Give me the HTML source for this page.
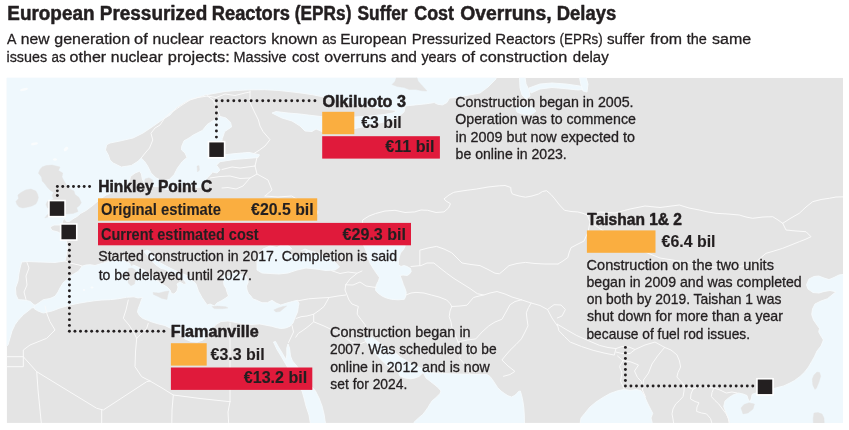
<!DOCTYPE html>
<html lang="en"><head><meta charset="utf-8"><title>European Pressurized Reactors (EPRs) Suffer Cost Overruns, Delays</title>
<style>
html,body{margin:0;padding:0;background:#fff}
svg{display:block}
text{font-family:"Liberation Sans",sans-serif;fill:#231f20;stroke:#231f20;stroke-width:0.3px;stroke-linejoin:round}
.b{font-weight:bold;stroke-width:0.5px}
.v{font-weight:bold;stroke-width:0.12px}
</style></head><body>
<svg width="849" height="430" viewBox="0 0 849 430">
<rect width="849" height="430" fill="#fff"/>
<defs><clipPath id="mc"><rect x="6.7" y="77.8" width="836.3" height="345.1"/></clipPath></defs>
<g clip-path="url(#mc)">
<rect x="6.7" y="77.8" width="836.3" height="345.1" fill="#e4e4e4"/>

<g fill="#eff8fd" stroke="#f6fafd" stroke-width="0.9" stroke-linejoin="round">
<path d="M0,70 L496,70 L496,79 L488,87 L480,93 L462.4,96.3 L453,97.8 L449.5,98 L447,102.5 L442.4,104.9 L437.7,104.3 L434.2,102.5 L427,103.7 L415.3,104.9 L405.3,106 L404,112 L398,117 L388,121 L375,124 L362,127 L350,129.5 L342,131.5 L335,132.8 L328,132.8 L322,131.5 L316,129 L312,131.5 L305,131 L300,126 L292,121 L282,118 L272,113 L276,111.5 L288,113 L300,114 L312,115.5 L325,117 L340,117.5 L355,117 L370,116 L384,114.5 L393,113 L396.5,111 L394.8,110.3 L384,109 L372.2,107.5 L361,105.5 L349.6,103.3 L341,101 L332.7,99 L323,96.8 L312.9,94.8 L303,93.3 L293,92 L279,90.5 L264.8,89.7 L250,89.8 L236.5,90.5 L225,91.5 L214,93.4 L205,95 L197,97.6 L191,99 L185,102 L176,108 L170,115 L162,120 L152,127 L143,133 L133,138 L120,141 L110,143 L106.6,144.8 L105.5,150 L108.2,154.7 L110,160 L113.2,163 L121.4,167 L131.3,165.5 L138,161.3 L141.2,158 L144.5,161.3 L147.8,166.3 L151,172.9 L156,177.8 L162.7,181 L169.3,179.5 L174.2,174.5 L177.5,168 L182.5,161.3 L187,157.5 L185,153 L181.6,150 L181.6,146.5 L184,140.8 L189,138 L193.3,135 L202.6,130.3 L207.2,124.5 L214.2,119.9 L220,116.4 L226,118 L230.5,122.2 L231.6,126.9 L224.7,131.5 L222.3,138.5 L221,146 L222,152 L224.7,154.8 L235,153.6 L249,152.4 L259.5,154.8 L258,157.5 L249,158.3 L235,159.4 L220,161.7 L216.5,165.2 L220,169.9 L217,173 L212.5,172 L210.7,174.5 L207.2,178 L205,184 L203,187 L196,187.5 L188,186 L178,189 L166,189.5 L158,186.5 L150,186.5 L146,184.5 L143.5,182 L142,177.8 L141.5,174 L139.6,171.2 L135,173 L130.5,176.5 L129.7,180 L128.9,184.4 L129.5,188 L124,190.5 L114,192 L106,195 L98,201 L92,206 L86,210.5 L80.5,213.5 L77,216.5 L73,218.8 L69.5,221.5 L66.5,221.5 L64.5,218.5 L62.5,221 L62,225 L58,225 L54,225 L50,227 L52,230.5 L58,232 L63,235 L66,240 L67.5,247 L66.5,255 L65,261 L55,262.5 L40,262 L27,261.5 L21.7,262 L20.5,266 L19,273 L18,281 L15.5,288 L16,295 L18.3,299.7 L24,300 L30,301.3 L33,304 L35,305.3 L35.5,307 L31.7,308 L28,311 L23.3,314.7 L18,320.5 L15,324.7 L12,331 L10,338 L8,345 L0,351.3Z"/>
<path d="M35,305.3 L38,303.5 L43.3,299.7 L50,298.5 L55,296.3 L58,292 L60,288 L63,283 L66.7,279.7 L72,275 L78.3,271.3 L81,268 L81.7,266.3 L86,265 L90,264.7 L95,265.5 L100,264 L105,262.5 L110,261 L115,259.5 L120,259 L125,261 L131,264 L138,267 L145,270.5 L150,275 L156,280 L162,284 L167,287 L170,290 L171.5,293.5 L174,294 L177,291 L178,287 L177,284 L180,282 L184,284.5 L186.5,283.5 L184,280 L179,277 L173,274.5 L168,272 L166,269.5 L161,268.5 L156,265 L151,260.5 L147,255 L144,251.5 L147,250 L151,252 L154,257 L159,262 L166,266 L174,270 L182,273.5 L188.5,276 L193,281 L195.8,283.5 L198.4,291 L202,297.5 L205,302 L207.3,305 L210,304 L214.5,306 L217,303 L221,301 L225,298.5 L228.5,296 L227,292 L226,288.6 L224,285 L223.5,281 L223,277.5 L224.5,274.8 L228,276.8 L231,274.5 L236.7,273 L241,274.5 L245.7,275.8 L247,278.5 L248.2,282 L246.5,286 L247,290 L248.5,293.5 L250.8,296 L253,299 L256,300 L262,302.7 L267.4,302.7 L272,300.3 L276,303 L280.8,305 L287,303 L292.5,301.5 L297.3,300.3 L299,303.5 L298.4,306.2 L297.5,312 L294.9,318 L293,323 L290.2,326.2 L285.5,328 L280.8,328.6 L276,327.5 L271.3,326.2 L265,325 L259.6,323.9 L252,324.5 L244,324 L236,322.5 L228,321 L221,321.5 L216,324.5 L212,329 L207.7,335.6 L203,340 L197,342 L191,341.5 L185,339 L179,334 L172,329 L165,325.5 L158.3,323.9 L152,322 L147.7,320.3 L143,318.5 L139.4,315.6 L137.5,312 L138.2,308.6 L140,304 L141.8,299 L142.8,297.3 L138,298 L134,296.8 L126.5,297.3 L118,298.8 L110.2,299.7 L102,300 L94,300.8 L86,302 L80,303 L70,305 L60,308 L52,311 L43.3,313 L38,311 L34,308.5Z"/>
<path d="M257,262 L259,255 L263,249 L270,246 L277,247.5 L283,244 L289,246 L293,250 L299,252 L305,249 L310,251 L318,253 L327,257 L335,262 L339.5,267 L335,270 L326,270.5 L316,269 L306,268 L297,270 L288,273 L279,274 L270,273.5 L262,273 L257,270Z"/>
<path d="M363,244 L370,240 L380,239 L392,240 L402,242.5 L405.3,245.9 L403.3,249.8 L400.5,253 L399.3,256.8 L398.5,261 L398.3,264.7 L401,266.5 L404,265.5 L407.2,266.6 L410.5,268.5 L411.2,271.6 L409.5,274 L407.2,275.5 L403,275 L400,275.5 L401.3,278.5 L403.3,284.4 L405,288.5 L406.2,292.3 L405.8,296 L404.3,299.3 L398,299.8 L391.4,299.3 L386.5,298 L382.5,296.3 L378.5,293.5 L375.6,290.4 L375.8,287 L376.6,284.4 L378.5,281 L379.5,277.5 L377,274 L374.6,270.6 L372,266.5 L369.7,262.7 L367.5,256 L365.7,249.8Z"/>
<path d="M273.5,342 L275.5,341.5 L278.5,347 L282.5,353.5 L285.8,359.5 L286.8,355 L286.8,348 L288,344 L289.5,348 L290.5,356 L292.5,361 L296.8,366 L301,372 L306,379 L311,386 L315.5,391 L319,398 L322,406 L324,414 L326.5,430 L311.5,430 L309,415 L306,406 L304,398 L302,391 L297,384 L292,376 L288,368 L284.5,362 L281,356 L277,349.5Z"/>
<path d="M366,337.5 L370,336.5 L375,339.5 L381,344 L388,348.5 L395,352.5 L400,357 L407,361 L413,364.5 L419,367.5 L424,369.5 L427,371.5 L432,372.8 L438.4,373.2 L443.6,373.5 L454.7,374 L469.7,374.4 L481,374.6 L487,374.6 L490,376.5 L492.4,379.6 L495,383.5 L497.6,387.5 L501,391 L504.6,393.6 L508,395.8 L511.6,397 L514.5,395.5 L516.8,393.6 L518.5,391.5 L520.3,391 L521.2,394 L522,397 L523,402 L523.8,407.5 L524.3,415 L524.6,430 L413,430 L414,422.3 L418.5,418 L422.7,414.5 L425.5,411 L427.9,407.5 L430,404 L432.3,400.6 L435,398.5 L437.5,396.2 L440,393.5 L441,391 L438.5,388 L434.9,384.9 L430.5,381.5 L426,378 L424.5,375 L423.2,372.6 L421.5,374 L419.2,376.3 L415,378 L410.5,378.8 L405,378 L400,376 L398,372 L397.5,367.5 L395.5,366.5 L393.5,369 L390,367.5 L385,363.5 L380,358.5 L375,353 L370,347 L366,341.6 L364.5,339Z"/>
<path d="M579,430 L581,418 L584.8,413.3 L590,407 L596,402 L603,397.5 L610,393.5 L617,391 L624.4,389.3 L630,390.5 L636,389.5 L641,390.7 L644,395 L647,402 L650,408 L652.7,413.3 L651,418 L654,430Z"/>
<path d="M732.3,430 L727.4,416.3 L723.7,406.5 L725,401 L728.6,397.9 L733,395 L738.5,393 L743,394 L747,395.5 L748,399 L750,402 L751.5,398 L752,394.5 L755.7,393 L760,392 L774,388.5 L783.8,385.9 L789,383.5 L794.3,380.7 L800,376.5 L804.7,372 L808.5,367 L811.7,361.5 L814.5,356.5 L817,351 L821,346 L823.4,340 L821,336 L818.7,331.9 L819.5,328.5 L817,325 L813.5,320 L811.7,314.5 L812.5,309 L815,304 L821,301 L827.4,298.8 L832,295 L836,291.8 L830,290.5 L824,291.5 L819,293 L813,292.5 L808,289 L806.5,284.8 L809,279 L814,276.5 L818.7,276 L824,278 L829,279.6 L834,277.5 L839,275 L850,273.5 L850,430Z"/>
<path d="M519,70 L524,70 L526,84 L529,90 L530,96 L526,99 L522,95 L520,88Z"/>
<path d="M529,88 L540,84 L552,83 L566,84 L580,86 L586,89 L578,90 L564,88.5 L552,87.5 L540,89 L531,93Z"/>
<path d="M578,70 L584,70 L588,84 L587,92 L583,91 L581,85Z"/>
<path d="M516,108 L524,105 L532,107 L536,111 L531,115 L522,114 L517,112Z"/>
</g>
<g fill="#e4e4e4" stroke="#e4e4e4" stroke-width="0.4" stroke-linejoin="round">
<path d="M399,70 L415,70 L418,81 L422,85.5 L427,91 L422,90.8 L416,89.5 L409,89.5 L404,87.5 L397,86.5 L392,84.5 L395,81.5Z"/>
<path d="M46,165.6 L52,165 L60,167 L58.5,170.5 L62.7,173 L62,177 L64,181 L67.8,187 L71,189.5 L74,191 L75,194.5 L79,197.5 L81.3,202.7 L79.5,205.5 L76.7,207.8 L78,211.6 L73,213.5 L66.5,214 L60,215 L55,215.4 L51,217 L48.6,216.7 L44.8,218 L47,215 L51,211.6 L55,209 L51,208.5 L47.3,207.8 L46,204.5 L47.3,201.4 L50.5,200.5 L53.7,198.8 L52,195.5 L53.7,192.4 L50.5,190.5 L47.3,187.3 L45,184 L42.2,181 L41.5,177 L38.4,173.2 L40,169.5 L42.2,166.9Z"/>
<path d="M25.6,189.9 L31,189 L35.8,191 L37.5,194 L38.4,197.5 L37.5,201 L35.8,204 L32,206 L28,207 L23,208 L19.2,207 L17,204.5 L15.9,201.4 L18.5,198.5 L17.9,195 L21,192.5Z"/>
<path d="M128.5,268.5 L132,268 L135.5,270 L135.8,277 L134.5,284 L131,285.7 L128.2,283 L127.7,276Z"/>
<path d="M130.5,255.5 L132.5,254 L134,258 L133.5,264 L131.5,266 L129.8,262Z"/>
<path d="M153,292.5 L159,293 L165,291.5 L169,291 L167.8,295 L167,299.5 L162,298.5 L157,296 L153.5,294.5Z"/>
<path d="M212,306.5 L218,306 L226,306.8 L228,308 L222,308.8 L214,308.6Z"/>
<path d="M273.7,310 L278,308 L283,306.5 L286.7,306 L283,309 L280,311.5 L276,312Z"/>
<path d="M145,179 L149,177.8 L152.8,180 L152,184.4 L147.5,185 L144.5,182.5Z"/>
<path d="M197,166 L199,165.6 L199.5,170 L197.5,172Z"/>
<path d="M741,408 L744,404.5 L749,402.8 L754.5,404 L753,409 L748,413 L743,413.9Z"/>
<path d="M817,372 L819.5,372.5 L820.7,376 L819,382 L816.5,388 L815,389.5 L812.8,385 L812.3,379 L814,375Z"/>
<path d="M814,413 L818,412.6 L822,414 L824,418 L824.6,430 L813.6,430 L813.2,418Z"/>
<path d="M290,250 L295,249 L301,251 L306,250.5 L302,254 L296,256.5 L292,255Z"/>
</g>
<g fill="#fafcfd">
<ellipse cx="24" cy="89.5" rx="4" ry="1.2" transform="rotate(-15 24 89.5)"/>
<ellipse cx="34.5" cy="143.8" rx="3.5" ry="1.3" transform="rotate(-10 34.5 143.8)"/>
<ellipse cx="66" cy="149" rx="2.6" ry="1.6" transform="rotate(-40 66 149)"/>
<ellipse cx="55" cy="159.5" rx="2" ry="1.2" transform="rotate(0 55 159.5)"/>
<ellipse cx="92" cy="287.5" rx="1.5" ry="1" transform="rotate(0 92 287.5)"/>
<ellipse cx="84" cy="290" rx="1.2" ry="0.9" transform="rotate(0 84 290)"/>
</g>
<g fill="none" stroke="#fafafa" stroke-width="1" stroke-linejoin="round" stroke-linecap="round">
<path d="M141.2,158 L146,152 L149.5,148 L152.8,140 L151,133.3 L155,128 L160,125 L165,117.5 L170,113 L175,110 L182,105 L190,100 L198,97.5 L207.5,96"/>
<path d="M220,116.4 L217,108 L213,100 L207.5,96"/>
<path d="M207.5,96 L216,97.5 L225,94 L235,95.5 L245,93 L250,92"/>
<path d="M250,91 L250,102.4 L254,111 L258.4,119.9 L260,126 L263,131.5 L270,139.7 L265,146 L259.5,150 L254,153.5"/>
<path d="M257,157.5 L255,166"/>
<path d="M222,169.5 L232,167 L240,168 L255,166"/>
<path d="M255,166 L257,174 L250,178"/>
<path d="M210,178 L220,176.5 L230,176 L240,178.5 L250,178"/>
<path d="M250,178 L243,186 L236,189 L228,187.5 L222,188"/>
<path d="M257,174 L268,180 L272,190 L265,196"/>
<path d="M265,196 L278,197 L291.6,196 L300,201 L312,203 L318,212 L314,220"/>
<path d="M45,306 L47,314 L50,321.7 L55,330 L46.7,338.3 L30,345 L23.3,350 L23.3,356.7"/>
<path d="M0,356.7 L23.3,356.7 L23.3,366.7 L0,366.7"/>
<path d="M23.3,356.7 L36.7,371.7 L96.7,408.3 L103.3,410 L146.7,381.7 L150,381"/>
<path d="M36.7,371.7 L38,390 L42,430"/>
<path d="M101.7,410 L101.7,430"/>
<path d="M128.3,300 L126,310 L123.3,318.3 L129,325 L133.3,331.7 L136.7,338.3"/>
<path d="M136.7,338.3 L142,333 L146.7,328.3 L148.3,323.3"/>
<path d="M136.7,338.3 L135.5,352 L135,366.7 L141.7,376.7 L150,381"/>
<path d="M150,381 L162,388 L173.3,395 L200,398.5 L230,401.7"/>
<path d="M173.3,395 L172,410 L171.7,430"/>
<path d="M230,323 L230,401.7"/>
<path d="M230,401.7 L228,412 L229,430"/>
<path d="M297,301 L308.6,298.8 L320,298 L329,297.5 L338,296 L345.7,295"/>
<path d="M345.7,284.8 L345,290 L347,295 L349,300 L352,304 L358.4,306.5 L357.5,310 L357.2,314.2 L361,319.5 L364.8,324.4 L367.5,331 L370,337"/>
<path d="M331.6,270.7 L340,273.5 L348,272 L357.2,273.2 L362,271"/>
<path d="M345.7,284.8 L350,279 L357.2,273.2"/>
<path d="M345.7,284.8 L353,285 L360,282 L366,286 L376,287.5"/>
<path d="M405.8,295 L411,293 L416,292.4 L424,293 L431.3,295 L439,297 L446.7,300 L450,303.5 L451.8,306.5"/>
<path d="M451.8,306.5 L450,311 L449.2,316.7 L451,322 L451.8,327 L455,334 L458,342"/>
<path d="M458,342 L462,348 L459.5,358.4 L466,366 L470,374"/>
<path d="M411,266.5 L421,265.6 L427,263 L433.9,263 L440,268 L446.7,273.2 L454,278.5 L462,283.5 L470,288.5 L477.4,293.7 L483.8,295"/>
<path d="M419.8,265.6 L419.8,250.2 L428,248 L436.5,246.4 L444,249 L451.8,252.8 L457,258 L462,263 L471,264.5 L480,265.6 L488,269.5 L495,273.2 L499.4,273.8 L504,270 L509,265.6 L517,263.5 L525.4,262.4 L535,263.5 L545,264 L558,264"/>
<path d="M451.8,306.5 L460,306 L467,305.2 L470.5,301 L473.5,297.5 L479,296 L483.8,295 L490,293 L497,291.5 L505,294 L512,297 L521.4,299.8"/>
<path d="M329,297.5 L326.5,302 L324,306.5 L319,310.5 L313.7,314.2 L307,316 L301,316.7 L296,318.5"/>
<path d="M313.7,314.2 L313.7,321.8 L310,325 L306,328.2 L302,331 L298.3,333.4 L295.8,337.2"/>
<path d="M313.7,321.8 L324,326 L334,330.8 L343,336.5 L352,342.3 L360,344 L366,341.5"/>
<path d="M292,325.5 L293.5,332 L288.5,342.5"/>
<path d="M366,244 L362,232 L362.6,220 L369,216 L375.6,213.5 L385,211 L395,210.3 L405,212.5 L414.7,211.9 L421,210 L427.7,210.3 L436,212.5 L444,211.9 L448.5,208 L450.5,203.7 L446,201 L444,198.9 L449,195 L453.8,192.3 L465,190.5 L476.6,189 L488,187 L499.4,185.8 L505,185.5 L510.8,187.5 L511,191 L512.4,194 L519,196 L525.4,197.2 L532,196 L538.5,194 L542.5,191.5 L546.6,190.7 L551,194.5 L554.8,198.9 L559.5,205 L564.5,210.3 L571,211.5 L577.6,211.9 L582,213 L587.3,215"/>
<path d="M587.3,215 L590,222 L588,232 L584,241 L577,244.5 L571,247.7 L569,253 L567.8,257.5 L563,261 L558,264"/>
<path d="M587.3,215 L600,212 L615,213 L630,209 L645,206 L660,207.5 L679.3,205 L689,208 L699.3,210 L708,212 L716,213.3 L728,214 L739.3,215 L746,217 L752.7,218.3 L763,217 L772.7,216.7 L778,220 L782.7,223.3"/>
<path d="M782.7,223.3 L786,230 L796,231 L806,231.7 L811,236.7 L805,239.5 L799.3,241.7 L791,245 L782.7,248.3 L774,251 L766,253.3 L761,257.5 L756,261.7 L748,264.5 L739.3,266.7 L725,268 L705,266 L685,262 L660,258 L640,250 L620,240 L605,232 L590,222"/>
<path d="M782.7,223.3 L791,218 L799.3,213.3 L806,207 L812.7,201.7 L821,199.5 L829.3,198.3 L836,197 L850,196.7"/>
<path d="M458,342 L467,340 L475.8,338.9 L482,332 L488.9,325.8 L495,322 L501.9,319.3 L506,312 L510,304.7 L515,301.5 L521.4,299.8"/>
<path d="M503.5,376.3 L510,374.5 L514.9,371.4 L508,366 L501.9,360 L506,355 L510,350.3 L516,344.5 L521.4,338.9 L525,332 L528,325.8 L527,319 L526.3,312.8 L528.5,307.5 L531.2,303"/>
<path d="M521.4,299.8 L531.2,303 L540,305.5 L547.5,309.5 L552,318 L557.3,325.8"/>
<path d="M547.5,309.5 L554,304.7 L561,305 L565.4,309.5 L562,316 L557.3,318"/>
<path d="M557.3,324.2 L567,330 L576.8,335.6 L588,340.5 L599.6,345.4 L608,347.5 L615.9,348.6"/>
<path d="M557.3,324.2 L558.9,330.7 L564.5,336.5 L570.3,342.1 L581.5,346.5 L593.1,350.3 L604,353 L614.3,355.1 L615.9,348.6"/>
<path d="M615.9,348.6 L622,346.5 L629,347 L635,349.5 L630,353.5 L622,353.5 L615.9,352"/>
<path d="M635,349.5 L645,345 L655,342 L664.6,347.4"/>
<path d="M617.5,356 L623,360.5 L619.5,366.5 L622,373 L620.5,381 L624.4,389.3"/>
<path d="M623,360.5 L631,362 L638.5,365 L634.5,371 L637.5,377.5 L641.5,381.5 L642.5,390"/>
<path d="M664.6,347.4 L657.5,356 L652,364 L648.5,373 L643.5,380 L642.5,390 L645.5,397"/>
<path d="M664.6,347.4 L671,350 L676.9,354.8 L679.5,361 L680.6,367 L678,372.5 L676.9,377 L681,381.5 L684.3,385.5 L689,387.5 L693,389.2"/>
<path d="M693,389.2 L698.5,386.5 L704,385.5 L709,387.5 L713.9,388 L720,390 L726.2,393 L732,392 L737.2,393"/>
<path d="M684.3,385.5 L684,391 L683,396.6 L679.5,400.5 L675.7,404 L673,409 L672,413.9 L673,419 L674.5,430"/>
<path d="M693,389.2 L691,394 L690.5,399 L695,401.5 L699,402.8 L697,407 L696.6,411.4 L701.5,413 L706.5,413.9 L710.5,418.5 L713.9,430"/>
<path d="M713.9,388 L712,392.5 L711.4,396.6 L715,400.5 L718.8,404 L722.5,409 L726.2,413.9 L728.5,418.5 L729.9,430"/>
<path d="M27,262.5 L29,268 L26,276 L27,285 L24,292 L26,299.5"/>
<path d="M65,261 L72,263.5 L79,265 L82,266"/>
</g>
</g>
<rect x="322.2" y="111.8" width="32.1" height="22.4" fill="#faae40"/>
<rect x="322.2" y="136.2" width="117.7" height="22.4" fill="#e01a3b"/>
<rect x="98" y="198.3" width="219.2" height="22.4" fill="#faae40"/>
<rect x="98" y="222.9" width="313" height="22.4" fill="#e01a3b"/>
<rect x="170.9" y="343.2" width="35.8" height="22.4" fill="#faae40"/>
<rect x="170.9" y="367.5" width="141.4" height="22.4" fill="#e01a3b"/>
<rect x="586.9" y="230.4" width="68.6" height="22.4" fill="#faae40"/>
<circle cx="216.40" cy="100.80" r="1.45" fill="#231f20"/>
<circle cx="222.19" cy="100.80" r="1.45" fill="#231f20"/>
<circle cx="227.99" cy="100.80" r="1.45" fill="#231f20"/>
<circle cx="233.78" cy="100.80" r="1.45" fill="#231f20"/>
<circle cx="239.58" cy="100.80" r="1.45" fill="#231f20"/>
<circle cx="245.37" cy="100.80" r="1.45" fill="#231f20"/>
<circle cx="251.16" cy="100.80" r="1.45" fill="#231f20"/>
<circle cx="256.96" cy="100.80" r="1.45" fill="#231f20"/>
<circle cx="262.75" cy="100.80" r="1.45" fill="#231f20"/>
<circle cx="268.55" cy="100.80" r="1.45" fill="#231f20"/>
<circle cx="274.34" cy="100.80" r="1.45" fill="#231f20"/>
<circle cx="280.14" cy="100.80" r="1.45" fill="#231f20"/>
<circle cx="285.93" cy="100.80" r="1.45" fill="#231f20"/>
<circle cx="291.72" cy="100.80" r="1.45" fill="#231f20"/>
<circle cx="297.52" cy="100.80" r="1.45" fill="#231f20"/>
<circle cx="303.31" cy="100.80" r="1.45" fill="#231f20"/>
<circle cx="309.11" cy="100.80" r="1.45" fill="#231f20"/>
<circle cx="314.90" cy="100.80" r="1.45" fill="#231f20"/>
<circle cx="216.40" cy="106.90" r="1.45" fill="#231f20"/>
<circle cx="216.40" cy="112.94" r="1.45" fill="#231f20"/>
<circle cx="216.40" cy="118.98" r="1.45" fill="#231f20"/>
<circle cx="216.40" cy="125.02" r="1.45" fill="#231f20"/>
<circle cx="216.40" cy="131.06" r="1.45" fill="#231f20"/>
<circle cx="216.40" cy="137.10" r="1.45" fill="#231f20"/>
<circle cx="57.37" cy="186.45" r="1.45" fill="#231f20"/>
<circle cx="62.73" cy="186.45" r="1.45" fill="#231f20"/>
<circle cx="68.10" cy="186.45" r="1.45" fill="#231f20"/>
<circle cx="73.47" cy="186.45" r="1.45" fill="#231f20"/>
<circle cx="78.83" cy="186.45" r="1.45" fill="#231f20"/>
<circle cx="84.19" cy="186.45" r="1.45" fill="#231f20"/>
<circle cx="89.56" cy="186.45" r="1.45" fill="#231f20"/>
<circle cx="57.37" cy="190.86" r="1.45" fill="#231f20"/>
<circle cx="57.37" cy="195.50" r="1.45" fill="#231f20"/>
<circle cx="69.40" cy="244.50" r="1.45" fill="#231f20"/>
<circle cx="69.40" cy="250.28" r="1.45" fill="#231f20"/>
<circle cx="69.40" cy="256.06" r="1.45" fill="#231f20"/>
<circle cx="69.40" cy="261.84" r="1.45" fill="#231f20"/>
<circle cx="69.40" cy="267.62" r="1.45" fill="#231f20"/>
<circle cx="69.40" cy="273.40" r="1.45" fill="#231f20"/>
<circle cx="69.40" cy="279.18" r="1.45" fill="#231f20"/>
<circle cx="69.40" cy="284.96" r="1.45" fill="#231f20"/>
<circle cx="69.40" cy="290.74" r="1.45" fill="#231f20"/>
<circle cx="69.40" cy="296.52" r="1.45" fill="#231f20"/>
<circle cx="69.40" cy="302.30" r="1.45" fill="#231f20"/>
<circle cx="69.40" cy="308.08" r="1.45" fill="#231f20"/>
<circle cx="69.40" cy="313.86" r="1.45" fill="#231f20"/>
<circle cx="69.40" cy="319.64" r="1.45" fill="#231f20"/>
<circle cx="69.40" cy="325.42" r="1.45" fill="#231f20"/>
<circle cx="69.40" cy="331.20" r="1.45" fill="#231f20"/>
<circle cx="74.96" cy="331.20" r="1.45" fill="#231f20"/>
<circle cx="80.52" cy="331.20" r="1.45" fill="#231f20"/>
<circle cx="86.07" cy="331.20" r="1.45" fill="#231f20"/>
<circle cx="91.63" cy="331.20" r="1.45" fill="#231f20"/>
<circle cx="97.19" cy="331.20" r="1.45" fill="#231f20"/>
<circle cx="102.75" cy="331.20" r="1.45" fill="#231f20"/>
<circle cx="108.31" cy="331.20" r="1.45" fill="#231f20"/>
<circle cx="113.87" cy="331.20" r="1.45" fill="#231f20"/>
<circle cx="119.43" cy="331.20" r="1.45" fill="#231f20"/>
<circle cx="124.99" cy="331.20" r="1.45" fill="#231f20"/>
<circle cx="130.55" cy="331.20" r="1.45" fill="#231f20"/>
<circle cx="136.11" cy="331.20" r="1.45" fill="#231f20"/>
<circle cx="141.66" cy="331.20" r="1.45" fill="#231f20"/>
<circle cx="147.22" cy="331.20" r="1.45" fill="#231f20"/>
<circle cx="152.78" cy="331.20" r="1.45" fill="#231f20"/>
<circle cx="158.34" cy="331.20" r="1.45" fill="#231f20"/>
<circle cx="163.90" cy="331.20" r="1.45" fill="#231f20"/>
<circle cx="625.40" cy="347.40" r="1.45" fill="#231f20"/>
<circle cx="625.40" cy="352.92" r="1.45" fill="#231f20"/>
<circle cx="625.40" cy="358.44" r="1.45" fill="#231f20"/>
<circle cx="625.40" cy="363.96" r="1.45" fill="#231f20"/>
<circle cx="625.40" cy="369.49" r="1.45" fill="#231f20"/>
<circle cx="625.40" cy="375.01" r="1.45" fill="#231f20"/>
<circle cx="625.40" cy="380.53" r="1.45" fill="#231f20"/>
<circle cx="625.40" cy="386.05" r="1.45" fill="#231f20"/>
<circle cx="630.94" cy="386.05" r="1.45" fill="#231f20"/>
<circle cx="636.48" cy="386.05" r="1.45" fill="#231f20"/>
<circle cx="642.02" cy="386.05" r="1.45" fill="#231f20"/>
<circle cx="647.56" cy="386.05" r="1.45" fill="#231f20"/>
<circle cx="653.10" cy="386.05" r="1.45" fill="#231f20"/>
<circle cx="658.63" cy="386.05" r="1.45" fill="#231f20"/>
<circle cx="664.17" cy="386.05" r="1.45" fill="#231f20"/>
<circle cx="669.71" cy="386.05" r="1.45" fill="#231f20"/>
<circle cx="675.25" cy="386.05" r="1.45" fill="#231f20"/>
<circle cx="680.79" cy="386.05" r="1.45" fill="#231f20"/>
<circle cx="686.33" cy="386.05" r="1.45" fill="#231f20"/>
<circle cx="691.87" cy="386.05" r="1.45" fill="#231f20"/>
<circle cx="697.41" cy="386.05" r="1.45" fill="#231f20"/>
<circle cx="702.95" cy="386.05" r="1.45" fill="#231f20"/>
<circle cx="708.49" cy="386.05" r="1.45" fill="#231f20"/>
<circle cx="714.03" cy="386.05" r="1.45" fill="#231f20"/>
<circle cx="719.57" cy="386.05" r="1.45" fill="#231f20"/>
<circle cx="725.10" cy="386.05" r="1.45" fill="#231f20"/>
<circle cx="730.64" cy="386.05" r="1.45" fill="#231f20"/>
<circle cx="736.18" cy="386.05" r="1.45" fill="#231f20"/>
<circle cx="741.72" cy="386.05" r="1.45" fill="#231f20"/>
<circle cx="747.26" cy="386.05" r="1.45" fill="#231f20"/>
<circle cx="752.80" cy="386.05" r="1.45" fill="#231f20"/>
<rect x="207.7" y="140.85" width="17.7" height="17.7" fill="#fff"/>
<rect x="209.3" y="142.45" width="14.5" height="14.5" fill="#231f20"/>
<rect x="48.15" y="199.75" width="17.7" height="17.7" fill="#fff"/>
<rect x="49.75" y="201.35" width="14.5" height="14.5" fill="#231f20"/>
<rect x="59.85" y="223.15" width="17.7" height="17.7" fill="#fff"/>
<rect x="61.45" y="224.75" width="14.5" height="14.5" fill="#231f20"/>
<rect x="756.15" y="377.95" width="17.7" height="17.7" fill="#fff"/>
<rect x="757.75" y="379.55" width="14.5" height="14.5" fill="#231f20"/>
<text x="7.37" y="19.5" font-size="19.6" class="b" textLength="87.10" lengthAdjust="spacingAndGlyphs">European</text>
<text x="99.77" y="19.5" font-size="19.6" class="b" textLength="107.46" lengthAdjust="spacingAndGlyphs">Pressurized</text>
<text x="211.81" y="19.5" font-size="19.6" class="b" textLength="78.23" lengthAdjust="spacingAndGlyphs">Reactors</text>
<text x="294.86" y="19.5" font-size="19.6" class="b" textLength="56.55" lengthAdjust="spacingAndGlyphs">(EPRs)</text>
<text x="357.57" y="19.5" font-size="19.6" class="b" textLength="49.98" lengthAdjust="spacingAndGlyphs">Suffer</text>
<text x="414.28" y="19.5" font-size="19.6" class="b" textLength="39.75" lengthAdjust="spacingAndGlyphs">Cost</text>
<text x="460.13" y="19.5" font-size="19.6" class="b" textLength="91.42" lengthAdjust="spacingAndGlyphs">Overruns,</text>
<text x="556.80" y="19.5" font-size="19.6" class="b" textLength="59.44" lengthAdjust="spacingAndGlyphs">Delays</text>
<text x="7.10" y="44.2" font-size="15.2" textLength="9.43" lengthAdjust="spacingAndGlyphs">A</text>
<text x="20.68" y="44.2" font-size="15.2" textLength="28.81" lengthAdjust="spacingAndGlyphs">new</text>
<text x="54.26" y="44.2" font-size="15.2" textLength="75.82" lengthAdjust="spacingAndGlyphs">generation</text>
<text x="134.12" y="44.2" font-size="15.2" textLength="13.69" lengthAdjust="spacingAndGlyphs">of</text>
<text x="152.58" y="44.2" font-size="15.2" textLength="51.25" lengthAdjust="spacingAndGlyphs">nuclear</text>
<text x="209.17" y="44.2" font-size="15.2" textLength="57.43" lengthAdjust="spacingAndGlyphs">reactors</text>
<text x="271.26" y="44.2" font-size="15.2" textLength="46.31" lengthAdjust="spacingAndGlyphs">known</text>
<text x="322.26" y="44.2" font-size="15.2" textLength="14.13" lengthAdjust="spacingAndGlyphs">as</text>
<text x="340.17" y="44.2" font-size="15.2" textLength="66.79" lengthAdjust="spacingAndGlyphs">European</text>
<text x="411.70" y="44.2" font-size="15.2" textLength="79.30" lengthAdjust="spacingAndGlyphs">Pressurized</text>
<text x="495.30" y="44.2" font-size="15.2" textLength="60.15" lengthAdjust="spacingAndGlyphs">Reactors</text>
<text x="559.58" y="44.2" font-size="15.2" textLength="43.10" lengthAdjust="spacingAndGlyphs">(EPRs)</text>
<text x="606.92" y="44.2" font-size="15.2" textLength="37.78" lengthAdjust="spacingAndGlyphs">suffer</text>
<text x="650.24" y="44.2" font-size="15.2" textLength="31.79" lengthAdjust="spacingAndGlyphs">from</text>
<text x="686.68" y="44.2" font-size="15.2" textLength="20.10" lengthAdjust="spacingAndGlyphs">the</text>
<text x="712.00" y="44.2" font-size="15.2" textLength="39.15" lengthAdjust="spacingAndGlyphs">same</text>
<text x="6.47" y="62" font-size="15.2" textLength="40.63" lengthAdjust="spacingAndGlyphs">issues</text>
<text x="51.46" y="62" font-size="15.2" textLength="14.13" lengthAdjust="spacingAndGlyphs">as</text>
<text x="69.56" y="62" font-size="15.2" textLength="36.67" lengthAdjust="spacingAndGlyphs">other</text>
<text x="110.87" y="62" font-size="15.2" textLength="51.86" lengthAdjust="spacingAndGlyphs">nuclear</text>
<text x="167.82" y="62" font-size="15.2" textLength="62.04" lengthAdjust="spacingAndGlyphs">projects:</text>
<text x="233.54" y="62" font-size="15.2" textLength="53.07" lengthAdjust="spacingAndGlyphs">Massive</text>
<text x="292.01" y="62" font-size="15.2" textLength="27.05" lengthAdjust="spacingAndGlyphs">cost</text>
<text x="324.26" y="62" font-size="15.2" textLength="62.31" lengthAdjust="spacingAndGlyphs">overruns</text>
<text x="391.08" y="62" font-size="15.2" textLength="25.80" lengthAdjust="spacingAndGlyphs">and</text>
<text x="421.40" y="62" font-size="15.2" textLength="35.11" lengthAdjust="spacingAndGlyphs">years</text>
<text x="461.42" y="62" font-size="15.2" textLength="13.69" lengthAdjust="spacingAndGlyphs">of</text>
<text x="479.55" y="62" font-size="15.2" textLength="87.65" lengthAdjust="spacingAndGlyphs">construction</text>
<text x="572.80" y="62" font-size="15.2" textLength="35.91" lengthAdjust="spacingAndGlyphs">delay</text>
<text x="322.45" y="106.9" font-size="15.7" class="b" textLength="83.55" lengthAdjust="spacingAndGlyphs">Olkiluoto 3</text>
<text x="361.32" y="127.5" font-size="16.3" class="v" textLength="40.43" lengthAdjust="spacingAndGlyphs">€3 bil</text>
<text x="385.22" y="152.4" font-size="16.3" class="v" textLength="49.27" lengthAdjust="spacingAndGlyphs">€11 bil</text>
<text x="455.19" y="107" font-size="14.2" textLength="178.38" lengthAdjust="spacingAndGlyphs">Construction began in 2005.</text>
<text x="455.26" y="124.25" font-size="14.2" textLength="180.65" lengthAdjust="spacingAndGlyphs">Operation was to commence</text>
<text x="455.47" y="141.5" font-size="14.2" textLength="179.40" lengthAdjust="spacingAndGlyphs">in 2009 but now expected to</text>
<text x="455.55" y="158.75" font-size="14.2" textLength="111.25" lengthAdjust="spacingAndGlyphs">be online in 2023.</text>
<text x="98.29" y="191.5" font-size="15.7" class="b" textLength="114.07" lengthAdjust="spacingAndGlyphs">Hinkley Point C</text>
<text x="101.06" y="215" font-size="16.3" class="v" textLength="119.87" lengthAdjust="spacingAndGlyphs">Original estimate</text>
<text x="251.12" y="215" font-size="16.3" class="v" textLength="62.54" lengthAdjust="spacingAndGlyphs">€20.5 bil</text>
<text x="101.07" y="240" font-size="16.3" class="v" textLength="157.53" lengthAdjust="spacingAndGlyphs">Current estimated cost</text>
<text x="342.62" y="240" font-size="16.3" class="v" textLength="63.35" lengthAdjust="spacingAndGlyphs">€29.3 bil</text>
<text x="98.26" y="260.9" font-size="14.2" textLength="298.86" lengthAdjust="spacingAndGlyphs">Started construction in 2017. Completion is said</text>
<text x="98.69" y="280.2" font-size="14.2" textLength="153.34" lengthAdjust="spacingAndGlyphs">to be delayed until 2027.</text>
<text x="170.75" y="336.6" font-size="15.7" class="b" textLength="88.07" lengthAdjust="spacingAndGlyphs">Flamanville</text>
<text x="210.52" y="359.9" font-size="16.3" class="v" textLength="54.13" lengthAdjust="spacingAndGlyphs">€3.3 bil</text>
<text x="243.82" y="383.2" font-size="16.3" class="v" textLength="63.35" lengthAdjust="spacingAndGlyphs">€13.2 bil</text>
<text x="329.98" y="336.7" font-size="14.2" textLength="140.67" lengthAdjust="spacingAndGlyphs">Construction began in</text>
<text x="330.01" y="354.2" font-size="14.2" textLength="166.57" lengthAdjust="spacingAndGlyphs">2007. Was scheduled to be</text>
<text x="330.13" y="371.7" font-size="14.2" textLength="159.61" lengthAdjust="spacingAndGlyphs">online in 2012 and is now</text>
<text x="330.35" y="389.2" font-size="14.2" textLength="76.98" lengthAdjust="spacingAndGlyphs">set for 2024.</text>
<text x="587.34" y="224.8" font-size="15.7" class="b" textLength="94.70" lengthAdjust="spacingAndGlyphs">Taishan 1&amp; 2</text>
<text x="661.62" y="246.7" font-size="16.3" class="v" textLength="53.92" lengthAdjust="spacingAndGlyphs">€6.4 bil</text>
<text x="586.57" y="269.7" font-size="14.2" textLength="187.35" lengthAdjust="spacingAndGlyphs">Construction on the two units</text>
<text x="586.45" y="286.9" font-size="14.2" textLength="215.28" lengthAdjust="spacingAndGlyphs">began in 2009 and was completed</text>
<text x="586.75" y="304.1" font-size="14.2" textLength="194.71" lengthAdjust="spacingAndGlyphs">on both by 2019. Taishan 1 was</text>
<text x="586.95" y="321.3" font-size="14.2" textLength="196.01" lengthAdjust="spacingAndGlyphs">shut down for more than a year</text>
<text x="586.47" y="338.5" font-size="14.2" textLength="163.61" lengthAdjust="spacingAndGlyphs">because of fuel rod issues.</text>
</svg></body></html>
